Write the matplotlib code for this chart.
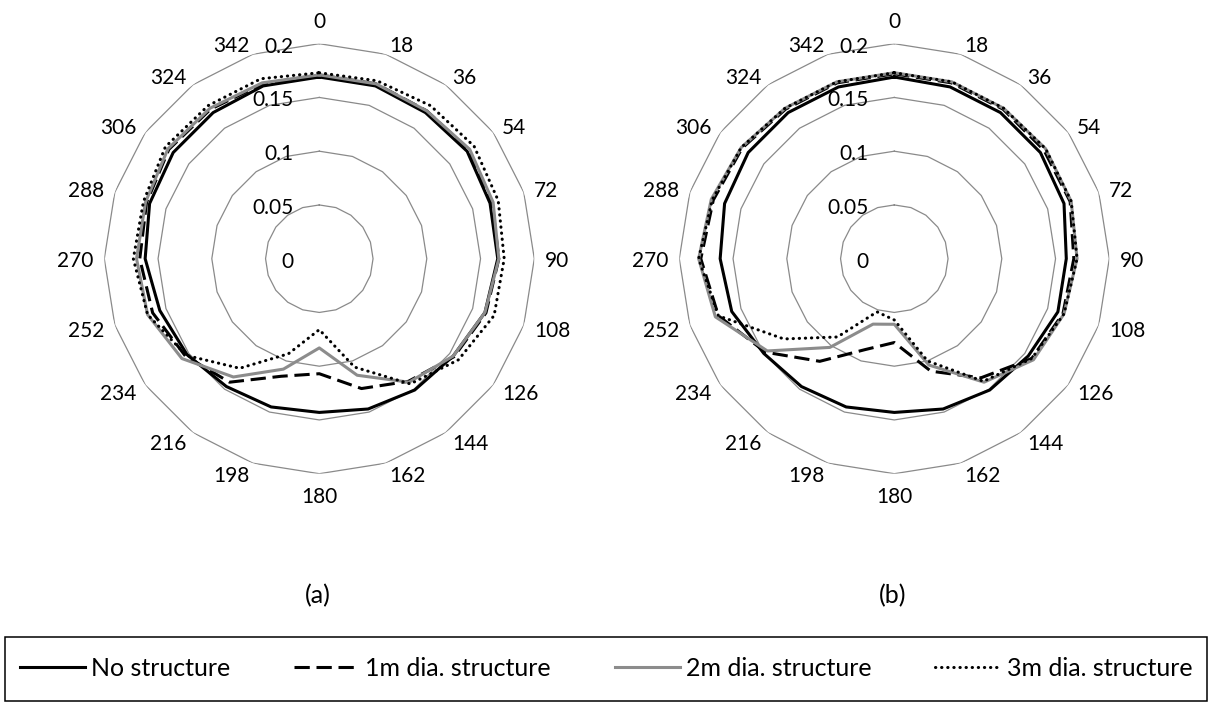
import numpy as np
import matplotlib
matplotlib.use('Agg')
import matplotlib.pyplot as plt
from matplotlib.lines import Line2D
from matplotlib.patches import Rectangle
from matplotlib.transforms import offset_copy

plt.rcParams['font.family'] = ['Lato', 'DejaVu Sans']

# Direction categories (degrees)
angles = [0, 18, 36, 54, 72, 90, 108, 126, 144, 162,
          180, 198, 216, 234, 252, 270, 288, 306, 324, 342]
ring_values = [0.05, 0.1, 0.15, 0.2]
ring_labels = ['0', '0.05', '0.1', '0.15', '0.2']
series_names = ['No structure', '1m dia. structure', '2m dia. structure', '3m dia. structure']

# (a)
a_none = [0.169, 0.169, 0.168, 0.170, 0.167, 0.166, 0.162, 0.154, 0.151, 0.147,
          0.143, 0.145, 0.147, 0.152, 0.156, 0.162, 0.166, 0.168, 0.168, 0.169]
a_1m = [0.171, 0.171, 0.170, 0.172, 0.169, 0.167, 0.163, 0.155, 0.141, 0.127,
        0.107, 0.115, 0.142, 0.154, 0.163, 0.167, 0.169, 0.173, 0.172, 0.171]
a_2m = [0.171, 0.171, 0.170, 0.173, 0.170, 0.167, 0.162, 0.154, 0.142, 0.114,
        0.083, 0.108, 0.136, 0.158, 0.168, 0.170, 0.170, 0.174, 0.173, 0.172]
a_3m = [0.173, 0.174, 0.176, 0.178, 0.175, 0.172, 0.171, 0.160, 0.144, 0.106,
        0.066, 0.093, 0.126, 0.153, 0.168, 0.173, 0.172, 0.177, 0.176, 0.176]

# (b)
b_none = [0.169, 0.168, 0.168, 0.168, 0.166, 0.160, 0.160, 0.154, 0.151, 0.147,
          0.143, 0.145, 0.147, 0.150, 0.159, 0.162, 0.166, 0.168, 0.168, 0.168]
b_1m = [0.172, 0.172, 0.172, 0.172, 0.172, 0.167, 0.165, 0.158, 0.137, 0.110,
        0.078, 0.089, 0.118, 0.148, 0.172, 0.180, 0.177, 0.175, 0.172, 0.172]
b_2m = [0.173, 0.173, 0.173, 0.174, 0.173, 0.170, 0.166, 0.160, 0.142, 0.104,
        0.061, 0.064, 0.102, 0.146, 0.175, 0.182, 0.179, 0.176, 0.173, 0.173]
b_3m = [0.173, 0.173, 0.173, 0.174, 0.173, 0.170, 0.166, 0.158, 0.141, 0.100,
        0.057, 0.052, 0.090, 0.127, 0.172, 0.182, 0.178, 0.176, 0.173, 0.173]

styles = [
    dict(color='black', lw=2.2, ls='-'),
    dict(color='black', lw=2.2, ls=(0, (5, 2.2))),
    dict(color='#8c8c8c', lw=2.2, ls='-'),
    dict(color='black', lw=2.2, ls=(0, (0.1, 1.9)), dash_capstyle='round'),
]

fig = plt.figure(figsize=(12.13, 7.02), dpi=100)

theta = np.deg2rad(angles + [360])
R_PX = 215.0  # pixel radius of the 0.2 ring


def closed(vals):
    return list(vals) + [vals[0]]


def radar(ax, data):
    ax.set_theta_zero_location('N')
    ax.set_theta_direction(-1)
    ax.set_ylim(0, 0.2)
    ax.axis('off')
    # polygon gridlines
    for rv in ring_values:
        ax.plot(theta, [rv] * len(theta), color='#8a8a8a', lw=0.9, zorder=1)
    # radial value labels, left of the 0 spoke
    trans = offset_copy(ax.transData, fig=fig, x=-26, y=-1, units='dots')
    for rv, lab in zip([0] + ring_values, ring_labels):
        ax.text(0, rv, lab, transform=trans, ha='right', va='center_baseline',
                fontsize=15, color='black')
    # category labels, Excel-like alignment around the outer ring
    for ang in angles:
        s = np.sin(np.deg2rad(ang))
        if ang == 0:
            ax.text(0, 0.2 * 231 / R_PX, '0', ha='center', va='baseline', fontsize=15)
        elif ang == 180:
            ax.text(np.pi, 0.2 * 228 / R_PX, '180', ha='center', va='top', fontsize=15)
        else:
            ax.text(np.deg2rad(ang), 0.2 * 226 / R_PX, str(ang),
                    ha='left' if s > 0 else 'right', va='center_baseline', fontsize=15)
    for vals, st in zip(data, styles):
        ax.plot(theta, closed(vals), zorder=3, **st)


ax1 = fig.add_axes([104.3 / 1213, (443.3 - 215) / 702, 430 / 1213, 430 / 702], projection='polar')
radar(ax1, [a_none, a_1m, a_2m, a_3m])
ax2 = fig.add_axes([679.3 / 1213, (443.3 - 215) / 702, 430 / 1213, 430 / 702], projection='polar')
radar(ax2, [b_none, b_1m, b_2m, b_3m])

fig.text(318 / 1213, 1 - 596 / 702, '(a)', ha='center', va='center', fontsize=18)
fig.text(893 / 1213, 1 - 596 / 702, '(b)', ha='center', va='center', fontsize=18)

# legend with surrounding box
fig.add_artist(Rectangle((5 / 1213, 1.5 / 702), 1202 / 1213, 63.5 / 702,
                         transform=fig.transFigure, fill=False, ec='black', lw=1.1))
handles = [Line2D([], [], **st) for st in styles]
fig.legend(handles, series_names, loc='center', bbox_to_anchor=(606 / 1213, 1 - 668 / 702),
           ncol=4, frameon=False, fontsize=18, handlelength=2.6, handletextpad=0.25,
           columnspacing=2.55, borderpad=0)

fig.savefig('out.png', dpi=100)
